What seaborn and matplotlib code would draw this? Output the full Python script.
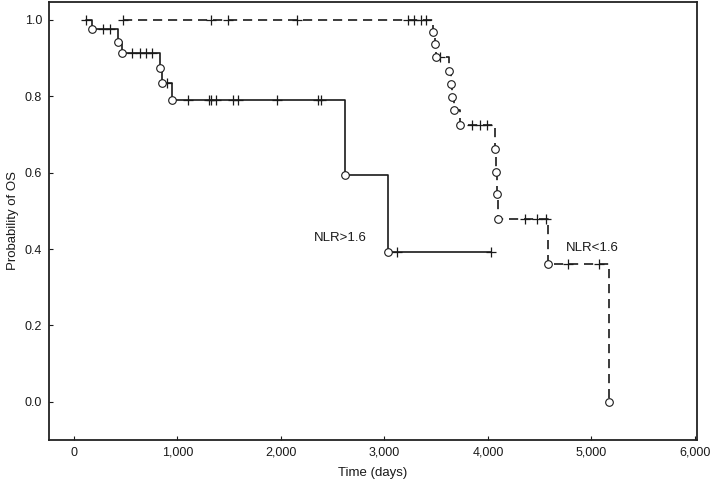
import numpy as np
import pandas as pd
import matplotlib
matplotlib.use("Agg")
import matplotlib.pyplot as plt
import seaborn as sns

# ---- data ----
# NLR>1.6 (solid)
hi_start = 113
hi_event_t = [175, 424, 468, 829, 848, 945, 2618, 3037]
hi_event_s = [0.976, 0.943, 0.914, 0.873, 0.834, 0.790, 0.593, 0.392]
hi_cens_t = [113, 279, 347, 565, 635, 694, 754, 900, 1103, 1303, 1329, 1377,
             1538, 1586, 1963, 2360, 2386, 3118, 4027]

# NLR<1.6 (dashed)
lo_start = 472
lo_event_t = [3472, 3488, 3500, 3627, 3640, 3656, 3672, 3730,
              4070, 4078, 4086, 4095, 4584, 5170]
lo_event_s = [0.968, 0.937, 0.904, 0.866, 0.832, 0.797, 0.764, 0.724,
              0.661, 0.602, 0.543, 0.480, 0.361, 0.0]
lo_cens_t = [472, 1329, 1490, 2157, 3230, 3290, 3350, 3400, 3537,
             3843, 3924, 3994, 4359, 4472, 4562, 4778, 5077]

x_ticks = [0, 1000, 2000, 3000, 4000, 5000, 6000]
x_labels = ["0", "1,000", "2,000", "3,000", "4,000", "5,000", "6,000"]
y_ticks = [0.0, 0.2, 0.4, 0.6, 0.8, 1.0]
y_labels = ["0.0", "0.2", "0.4", "0.6", "0.8", "1.0"]


def surv_at(t, ev_t, ev_s):
    s = 1.0
    for et, es in zip(ev_t, ev_s):
        if et <= t:
            s = es
    return s


def step_frame(start, ev_t, ev_s, cens_t):
    end = max([start] + list(ev_t) + list(cens_t))
    xs = [start] + list(ev_t)
    ys = [1.0] + list(ev_s)
    if end > xs[-1]:
        xs.append(end)
        ys.append(ys[-1])
    return pd.DataFrame({"t": xs, "s": ys})


sns.set_theme(style="white")
plt.rcParams["font.family"] = ["Liberation Sans", "DejaVu Sans"]

fig = plt.figure(figsize=(7.12, 4.83), dpi=100)
ax = fig.add_axes([49 / 712, 1 - 440 / 483, (697 - 49) / 712, (440 - 2) / 483])

col = "#1a1a1a"

groups = [
    ("NLR>1.6", hi_start, hi_event_t, hi_event_s, hi_cens_t, "-"),
    ("NLR<1.6", lo_start, lo_event_t, lo_event_s, lo_cens_t, (0, (5.5, 3.5))),
]

for name, start, ev_t, ev_s, cens_t, ls in groups:
    df = step_frame(start, ev_t, ev_s, cens_t)
    sns.lineplot(data=df, x="t", y="s", ax=ax, estimator=None, sort=False,
                 drawstyle="steps-post", color=col, lw=1.2, linestyle=ls)
    cdf = pd.DataFrame({"t": cens_t,
                        "s": [surv_at(t, ev_t, ev_s) for t in cens_t]})
    sns.scatterplot(data=cdf, x="t", y="s", ax=ax, marker="+", s=45,
                    color=col, linewidth=0.9, zorder=4)
    edf = pd.DataFrame({"t": ev_t, "s": ev_s})
    sns.scatterplot(data=edf, x="t", y="s", ax=ax, marker="o", s=30,
                    facecolor="white", edgecolor=col, linewidth=0.8, zorder=5)

ax.text(2575, 0.429, "NLR>1.6", ha="center", va="center", fontsize=9.5, color=col)
ax.text(5005, 0.402, "NLR<1.6", ha="center", va="center", fontsize=9.5, color=col)

ax.set_xlim(-240, 6020)
ax.set_ylim(-0.1, 1.047)
ax.set_xticks(x_ticks)
ax.set_xticklabels(x_labels)
ax.set_yticks(y_ticks)
ax.set_yticklabels(y_labels)
ax.tick_params(axis="both", direction="in", length=3, width=0.8, color=col,
               labelsize=9, labelcolor=col, pad=5)
ax.tick_params(left=True, bottom=True)
ax.set_xlabel("Time (days)", fontsize=9.5, color=col, labelpad=6)
ax.set_ylabel("Probability of OS", fontsize=9.5, color=col, labelpad=4)
for sp in ax.spines.values():
    sp.set_visible(True)
    sp.set_color("#222222")
    sp.set_linewidth(1.3)
ax.grid(False)

fig.savefig("out.png", dpi=100, facecolor="white")
